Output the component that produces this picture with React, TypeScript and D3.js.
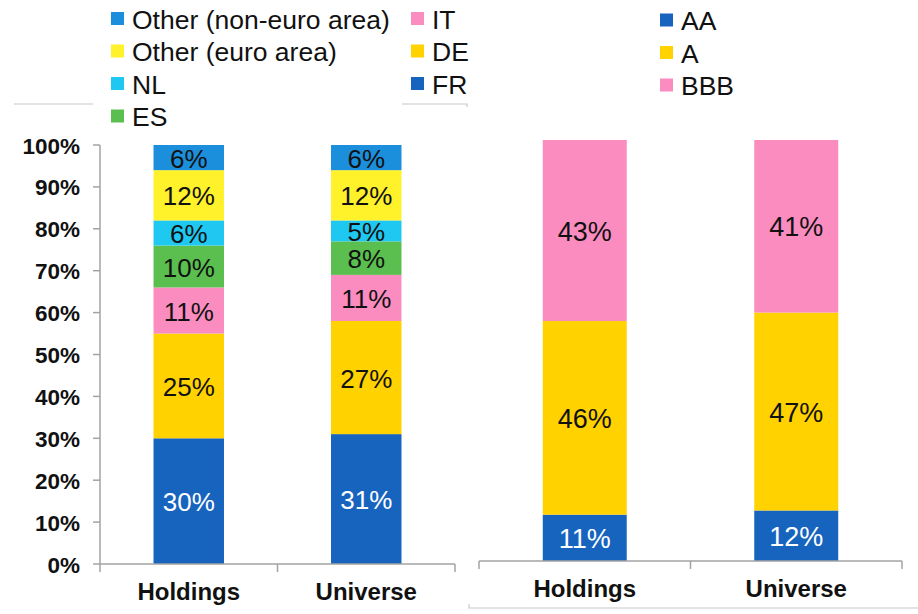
import React from "react";
import * as d3 from "d3";

// categories and values
const categories = ["Holdings", "Universe"];

const countrySeries = ["FR", "DE", "IT", "ES", "NL", "Other (euro area)", "Other (non-euro area)"];
const countryHoldings = [30, 25, 11, 10, 6, 12, 6];
const countryUniverse = [31, 27, 11, 8, 5, 12, 6];
const countryColors = ["#1764BF", "#FFD200", "#FA8CC0", "#5ABF4E", "#1FC8F0", "#FFF22B", "#1B8FDC"];

const ratingSeries = ["AA", "A", "BBB"];
const ratingHoldings = [11, 46, 43];
const ratingUniverse = [12, 47, 41];
const ratingColors = ["#1764BF", "#FFD200", "#FA8CC0"];

const yTickValues = [0, 10, 20, 30, 40, 50, 60, 70, 80, 90, 100];

const FONT = "'Liberation Sans', Arial, sans-serif";
const AXIS = "#A3A3A3";

type Row = { [k: string]: number | string };

function buildRows(series: string[], cols: number[][]): Row[] {
  return categories.map((c, ci) => {
    const r: Row = { cat: c };
    series.forEach((s, si) => (r[s] = cols[ci][si]));
    return r;
  });
}

interface PanelProps {
  series: string[];
  colors: string[];
  rows: Row[];
  x0: number;
  x1: number;
  yBottom: number;
  yTop: number;
  labelSize: number;
  showYAxis: boolean;
}

function StackPanel({ series, colors, rows, x0, x1, yBottom, yTop, labelSize, showYAxis }: PanelProps) {
  const x = d3.scaleBand<string>().domain(categories).range([x0, x1]).padding(0);
  const y = d3.scaleLinear().domain([0, 100]).range([yBottom, yTop]);
  const barW = x.bandwidth() * 0.397;
  const stacked = d3.stack<Row>().keys(series).value((d, k) => d[k] as number)(rows);

  return (
    <g>
      {stacked.map((layer, li) => (
        <g key={series[li]}>
          {layer.map((seg, ci) => {
            const cx = (x(categories[ci]) ?? 0) + x.bandwidth() / 2;
            const top = y(seg[1]);
            const bot = y(seg[0]);
            const val = seg[1] - seg[0];
            return (
              <g key={ci}>
                <rect x={cx - barW / 2} y={top} width={barW} height={bot - top} fill={colors[li]} />
                <text
                  x={cx}
                  y={(top + bot) / 2 + 1}
                  textAnchor="middle"
                  dominantBaseline="central"
                  fontFamily={FONT}
                  fontSize={labelSize}
                  fill={li === 0 ? "#ffffff" : "#111111"}
                >
                  {`${val}%`}
                </text>
              </g>
            );
          })}
        </g>
      ))}

      {/* x axis */}
      <line x1={x0} x2={x1} y1={yBottom} y2={yBottom} stroke={AXIS} strokeWidth={1.5} />
      {[x0, ...categories.map((c) => (x(c) ?? 0) + x.bandwidth())].map((t, i) => (
        <line key={i} x1={t} x2={t} y1={yBottom} y2={yBottom + 8} stroke={AXIS} strokeWidth={1.5} />
      ))}
      {categories.map((c) => (
        <text
          key={c}
          x={(x(c) ?? 0) + x.bandwidth() / 2}
          y={yBottom + 36}
          textAnchor="middle"
          fontFamily={FONT}
          fontWeight="bold"
          fontSize={24}
          fill="#111111"
        >
          {c}
        </text>
      ))}

      {showYAxis && (
        <g>
          <line x1={x0} x2={x0} y1={yTop} y2={yBottom} stroke={AXIS} strokeWidth={1.5} />
          {yTickValues.map((t) => (
            <g key={t}>
              <line x1={x0 - 7} x2={x0} y1={y(t)} y2={y(t)} stroke={AXIS} strokeWidth={1.5} />
              <text
                x={x0 - 20}
                y={y(t) + 1}
                textAnchor="end"
                dominantBaseline="central"
                fontFamily={FONT}
                fontWeight="bold"
                fontSize={22.5}
                fill="#111111"
              >
                {`${t}%`}
              </text>
            </g>
          ))}
        </g>
      )}
    </g>
  );
}

function Legend({ items, colors, x, y, colWidth, perCol }: {
  items: string[]; colors: string[]; x: number; y: number; colWidth: number; perCol: number;
}) {
  return (
    <g>
      {items.map((s, i) => {
        const col = Math.floor(i / perCol);
        const row = i % perCol;
        const lx = x + col * colWidth;
        const ly = y + row * 32.5;
        return (
          <g key={s}>
            <rect x={lx} y={ly - 6.5} width={13} height={13} fill={colors[i]} />
            <text x={lx + 21} y={ly + 1} dominantBaseline="central" fontFamily={FONT} fontSize={26.5} fill="#111111">
              {s}
            </text>
          </g>
        );
      })}
    </g>
  );
}

export default function App() {
  const countryRows = buildRows(countrySeries, [countryHoldings, countryUniverse]);
  const ratingRows = buildRows(ratingSeries, [ratingHoldings, ratingUniverse]);

  const legendCountries = [...countrySeries].reverse();
  const legendCountryColors = [...countryColors].reverse();

  return (
    <svg
      width={918}
      height={614}
      style={{ position: "absolute", left: 0, top: 0, background: "#ffffff" }}
    >
      {/* remnants of frame lines */}
      <line x1={14} x2={93} y1={104} y2={104} stroke="#C8C8C8" strokeWidth={1.2} />
      <polyline points="402,104 467,104 467,107" fill="none" stroke="#C8C8C8" strokeWidth={1.2} />
      <polyline points="469,604 469,608 918,608" fill="none" stroke="#C8C8C8" strokeWidth={1.2} />

      <StackPanel
        series={countrySeries}
        colors={countryColors}
        rows={countryRows}
        x0={100}
        x1={455}
        yBottom={564}
        yTop={145}
        labelSize={26}
        showYAxis={true}
      />
      <StackPanel
        series={ratingSeries}
        colors={ratingColors}
        rows={ratingRows}
        x0={479}
        x1={902}
        yBottom={561}
        yTop={140}
        labelSize={27}
        showYAxis={false}
      />

      <Legend items={legendCountries} colors={legendCountryColors} x={111} y={18.5} colWidth={300} perCol={4} />
      <Legend items={ratingSeries} colors={ratingColors} x={660} y={20} colWidth={0} perCol={3} />
    </svg>
  );
}
